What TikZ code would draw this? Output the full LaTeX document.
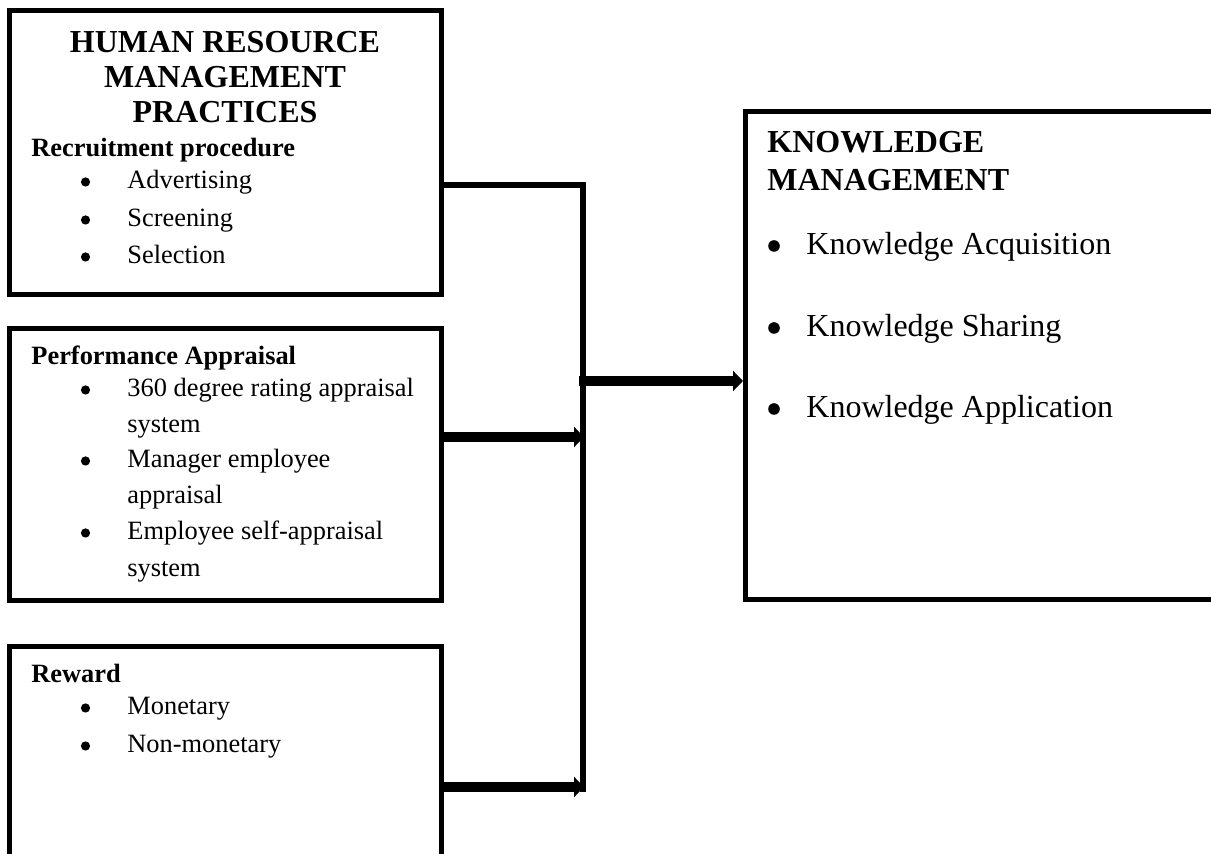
\documentclass[tikz,border=0pt]{standalone}
\usepackage{fontspec}
\setmainfont{Liberation Serif}
\usepackage{tikz}
\usetikzlibrary{arrows.meta}

\tikzset{
  box/.style={draw, line width=2.5pt, inner sep=0pt},
  head/.style={font=\fontsize{16}{19}\selectfont\bfseries, inner sep=0pt},
  sub/.style={font=\fontsize{13.2}{15}\selectfont\bfseries, inner sep=0pt, anchor=base west},
  item/.style={font=\fontsize{13.2}{15}\selectfont, inner sep=0pt, anchor=base west},
  bigitem/.style={font=\fontsize{16}{19}\selectfont, inner sep=0pt, anchor=base west},
  bul/.style={circle, fill, inner sep=0pt, minimum size=4.6pt},
  bigbul/.style={circle, fill, inner sep=0pt, minimum size=5.8pt},
  conn/.style={line width=2.8pt, line join=miter},
  arr/.style={line width=5pt, -{Triangle[length=5pt,width=10pt]}}
}

\begin{document}
\begin{tikzpicture}[x=0.5pt, y=-0.5pt]
\useasboundingbox (0,0) rectangle (1211,854);
%%%%% Boxes %%%%%
\node[box, minimum width=215.75pt, minimum height=142.25pt] (hrm) at (225.25,152.75) {};
\node[box, minimum width=215.75pt, minimum height=136pt] (pa) at (225.25,464.5) {};
\node[box, minimum width=215.75pt, minimum height=126.75pt] (rw) at (225.25,773.25) {};
\node[box, minimum width=242.25pt, minimum height=244.25pt] (km) at (987.75,355.75) {};

%%%%% HRM practices %%%%%
\foreach \txt [count=\i] in {HUMAN RESOURCE, MANAGEMENT, PRACTICES}
  \node[head, anchor=base] (hrm-t\i) at (225,18+35*\i) {\txt};
\node[sub] (hrm-s) at (31,157) {Recruitment procedure};
\foreach \y/\txt [count=\i] in {189/Advertising, 227/Screening, 264/Selection}{
  \node[bul] (hrm-b\i) at (85.5,\y-7) {};
  \node[item] (hrm-i\i) at (127,\y) {\txt};
}

%%%%% Performance appraisal %%%%%
\node[sub] (pa-s) at (31,365) {Performance Appraisal};
\foreach \y [count=\i] in {397,468,540}
  \node[bul] (pa-b\i) at (85.5,\y-7) {};
\foreach \y/\txt [count=\i] in {397/360 degree rating appraisal, 433/system, 468/Manager employee, 504/appraisal, 540/Employee self-appraisal, 577/system}
  \node[item] (pa-i\i) at (127,\y) {\txt};

%%%%% Reward %%%%%
\node[sub] (rw-s) at (31,683) {Reward};
\foreach \y/\txt [count=\i] in {715/Monetary, 753/Non-monetary}{
  \node[bul] (rw-b\i) at (85.5,\y-7) {};
  \node[item] (rw-i\i) at (127,\y) {\txt};
}

%%%%% Knowledge management %%%%%
\node[head, anchor=base west] (km-t1) at (767,153) {KNOWLEDGE};
\node[head, anchor=base west] (km-t2) at (767,191) {MANAGEMENT};
\foreach \y/\txt [count=\i] in {255/Knowledge Acquisition, 337/Knowledge Sharing, 418/Knowledge Application}{
  \node[bigbul] (km-b\i) at (774,\y-9) {};
  \node[bigitem] (km-i\i) at (806,\y) {\txt};
}

%%%%% Connectors %%%%%
\coordinate (jtop) at (583,185);
\coordinate (jbot) at (583,792);
\coordinate (r2) at (584,437);
\coordinate (r3) at (584,787);
\coordinate (jmid) at (579,381);
\draw[conn] (hrm.east |- jtop) -- (jtop) -- (jbot);
\draw[arr] (pa.east |- r2) -- (r2);
\draw[arr] (rw.east |- r3) -- (r3);
\draw[arr] (jmid) -- (km.west |- jmid);
\end{tikzpicture}
\end{document}
